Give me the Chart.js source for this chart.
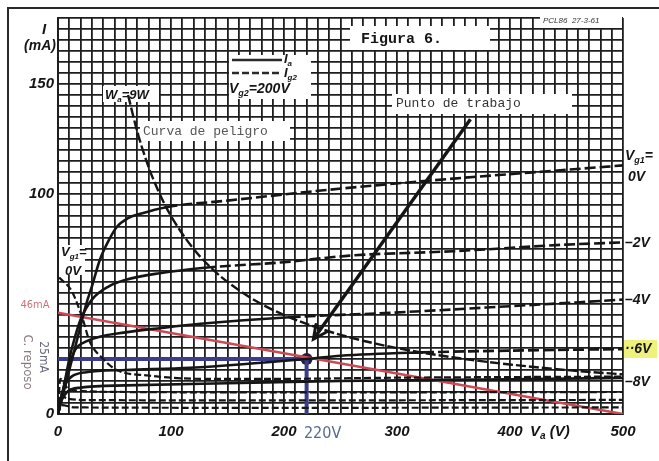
<!DOCTYPE html>
<html>
<head>
<meta charset="utf-8">
<script src="https://cdn.jsdelivr.net/npm/chart.js@4/dist/chart.umd.min.js"></script>
<style>
  body { margin: 0; background: #fff; }
  #wrap { width: 659px; height: 461px; }
</style>
</head>
<body>
<div id="wrap"><canvas id="chart" width="659" height="461"></canvas></div>
<script>
// axis ticks (Va in volts, I in mA)
const xTickLabels = [0, 100, 200, 300, 400, 500];
const yTickLabels = [0, 100, 150];

// anode current Ia for Vg1 = 0, -2, -4, -6, -8 V  [Va, Ia]
const ia0V = [[0,0],[5,10],[10,20],[15,30],[20,40],[25,50],[30,58],[37,70],[45,79],[52,85],[62,89],[73,91],[96,94],[150,97],[241,102],[350,107],[450,111],[500,113]];
const ia2V = [[0,0],[5,12],[10,25],[15,35],[20,43],[30,52],[45,58],[60,61],[90,64],[130,66.5],[200,69],[258,72],[350,74],[450,77],[500,78]];
const ia4V = [[0,0],[5,12],[10,22],[15,29],[25,33],[40,35.5],[58,37],[90,39],[126,41],[205,44],[294,46],[400,49],[500,52]];
const ia6V = [[0,0],[3,8],[7,14],[12,17],[25,19],[60,20],[117,21],[220,25],[250,26.5],[323,28],[400,28.8],[500,29.5]];
const ia8V = [[0,0],[3,6],[8,10],[20,12],[60,13],[150,14],[250,15],[400,15.8],[500,16.4]];
// Va where each Ia curve crosses the 9 W limit and turns dashed
const iaDashFrom = [96, 130, 205, 323, 9999];

// screen grid current Ig2
const ig2_0V = [[1,62],[12,56],[22,43],[28,33],[40,25],[52,20],[80,17.5],[126,16],[200,16],[300,16.5],[400,16.8],[500,17]];
const ig2_2V = [[0,0],[2,16],[8,12],[20,10.5],[60,10],[200,9.8],[500,10]];
const ig2_4V = [[0,0],[2,9],[8,7],[30,6.3],[200,6.2],[500,6.4]];
const ig2_6V = [[0,0],[3,4],[15,3],[200,2.8],[500,3]];

// max anode dissipation Wa = 9 W
const danger9W = [[62,145],[70,128.6],[80,112.5],[90,100],[100,90],[120,75],[140,64.3],[160,56.3],[180,50],[200,45],[240,37.5],[280,32.1],[320,28.1],[360,25],[400,22.5],[450,20],[500,18]];

// load line, quiescent point, arrow
const loadLine = [[0,46],[500,0]];
const restH = [[0,25],[220,25]];
const restV = [[220,0],[220,25]];
const workPoint = [[220,25]];
const arrowLine = [[365,134],[226,34]];

const INK = '#151515';

function curve(data, opts) {
  return Object.assign({
    data: data.map(p => ({x: p[0], y: p[1]})),
    showLine: true, pointRadius: 0, borderColor: INK, borderWidth: 2.6,
    cubicInterpolationMode: 'monotone', fill: false
  }, opts || {});
}

const iaSets = [ia0V, ia2V, ia4V, ia6V, ia8V].map((d, i) => curve(d, {
  segment: { borderDash: ctx => ctx.p0.parsed.x >= iaDashFrom[i] - 0.01 ? [11, 4] : undefined }
}));
const igSets = [ig2_0V, ig2_2V, ig2_4V, ig2_6V].map(d => curve(d, { borderDash: [7, 3], borderWidth: 2.2 }));

function sub(ctx, x, y, base, s, rest, size, color) {
  ctx.fillStyle = color || INK;
  ctx.font = 'italic bold ' + size + 'px "Liberation Sans"';
  ctx.textAlign = 'left';
  ctx.textBaseline = 'alphabetic';
  ctx.fillText(base, x, y);
  let w = ctx.measureText(base).width;
  ctx.font = 'italic bold ' + Math.round(size * 0.65) + 'px "Liberation Sans"';
  ctx.fillText(s, x + w, y + size * 0.22);
  w += ctx.measureText(s).width;
  if (rest) {
    ctx.font = 'italic bold ' + size + 'px "Liberation Sans"';
    ctx.fillText(rest, x + w, y);
  }
}

function txt(ctx, s, x, y, font, color, align) {
  ctx.font = font;
  ctx.fillStyle = color || INK;
  ctx.textAlign = align || 'left';
  ctx.textBaseline = 'middle';
  ctx.fillText(s, x, y);
}

const paper = {
  id: 'paper',
  beforeDraw(chart) {
    const c = chart.ctx;
    c.save();
    c.fillStyle = '#fff';
    c.fillRect(0, 0, chart.width, chart.height);
    c.restore();
  },
  beforeDatasetsDraw(chart) {
    const c = chart.ctx;
    c.save();
    c.fillStyle = '#fff';
    [[229,55,82,44],[350,26,140,24],[392,94,180,20],[140,121,150,20],[540,14,82,14],[103,86,56,16],[59,245,26,30]]
      .forEach(r => c.fillRect(r[0], r[1], r[2], r[3]));
    c.restore();
  },
  afterDatasetsDraw(chart) {
    const c = chart.ctx, xs = chart.scales.x, ys = chart.scales.y;
    c.save();
    // arrow head
    const x0 = xs.getPixelForValue(arrowLine[0][0]), y0 = ys.getPixelForValue(arrowLine[0][1]);
    const x1 = xs.getPixelForValue(arrowLine[1][0]), y1 = ys.getPixelForValue(arrowLine[1][1]);
    const a = Math.atan2(y1 - y0, x1 - x0);
    c.strokeStyle = INK; c.lineWidth = 3; c.lineCap = 'round';
    c.beginPath();
    c.moveTo(x1 - 15 * Math.cos(a - 0.45), y1 - 15 * Math.sin(a - 0.45));
    c.lineTo(x1, y1);
    c.lineTo(x1 - 15 * Math.cos(a + 0.45), y1 - 15 * Math.sin(a + 0.45));
    c.stroke();

    // frame of the scan
    c.strokeStyle = '#2a2a2a'; c.lineWidth = 2;
    c.beginPath(); c.moveTo(8, 461); c.lineTo(8, 8); c.lineTo(659, 8); c.stroke();

    // legend
    c.lineWidth = 2.4; c.lineCap = 'butt';
    c.beginPath(); c.moveTo(232, 60); c.lineTo(282, 60); c.stroke();
    c.setLineDash([7, 3]);
    c.beginPath(); c.moveTo(232, 73); c.lineTo(282, 73); c.stroke();
    c.setLineDash([]);
    sub(c, 284, 63, 'I', 'a', '', 13);
    sub(c, 284, 77, 'I', 'g2', '', 13);
    sub(c, 229, 93, 'V', 'g2', '=200V', 14);

    // axis titles
    txt(c, 'I', 44, 30, 'italic bold 15px "Liberation Sans"', INK, 'center');
    txt(c, '(mA)', 40, 46, 'italic bold 14px "Liberation Sans"', INK, 'center');
    sub(c, 530, 436, 'V', 'a', ' (V)', 15);
    txt(c, '220V', xs.getPixelForValue(220) + 16, 434, '16px "DejaVu Sans Condensed"', '#5a6a8a', 'center');

    // texts on the sheet
    txt(c, 'Figura 6.', 361, 39, 'bold 15px "Liberation Mono"', INK);
    txt(c, 'Punto de trabajo', 396, 104, '13px "Liberation Mono"', '#333');
    txt(c, 'Curva de peligro', 143, 132, '13px "Liberation Mono"', '#555');
    txt(c, 'PCL86  27-3-61', 543, 21, 'italic 8px "Liberation Sans"', '#333');
    sub(c, 105, 99, 'W', 'a', '=9W', 13);

    // grid voltage labels at right
    sub(c, 625, 160, 'V', 'g1', '=', 14);
    txt(c, '0V', 628, 177, 'italic bold 14px "Liberation Sans"');
    c.fillStyle = '#eef27a';
    c.fillRect(624, 340, 33, 18);
    [['–2V', 243], ['–4V', 300], ['··6V', 349], ['–8V', 382]].forEach(l =>
      txt(c, l[0], 625, l[1], 'italic bold 14px "Liberation Sans"'));
    sub(c, 61, 256, 'V', 'g1', '=', 13);
    txt(c, '0V', 65, 271, 'italic bold 13px "Liberation Sans"');

    // load line / rest labels
    txt(c, '46mA', 35, ys.getPixelForValue(loadLine[0][1]) - 8, '11px "DejaVu Sans Condensed"', '#d0707c', 'center');
    c.save();
    c.translate(43, ys.getPixelForValue(restH[0][1]) - 2);
    c.rotate(Math.PI / 2);
    txt(c, '25mA', 0, 0, '12px "DejaVu Sans Condensed"', '#6a6a80', 'center');
    c.restore();
    c.save();
    c.translate(27, ys.getPixelForValue(restH[0][1]) + 3);
    c.rotate(Math.PI / 2);
    txt(c, 'C. reposo', 0, 0, '13px "DejaVu Sans Condensed"', '#8a7a82', 'center');
    c.restore();
    c.restore();
  }
};

new Chart(document.getElementById('chart'), {
  type: 'scatter',
  data: {
    datasets: [
      ...iaSets,
      ...igSets,
      curve(danger9W, { borderDash: [10, 3], borderWidth: 2.4 }),
      curve(loadLine, { borderColor: '#cc4a55', borderWidth: 2.6, cubicInterpolationMode: 'default', tension: 0 }),
      curve(restH, { borderColor: '#3c3c8e', borderWidth: 4, tension: 0, cubicInterpolationMode: 'default' }),
      curve(restV, { borderColor: '#3c3c8e', borderWidth: 4, tension: 0, cubicInterpolationMode: 'default' }),
      curve(arrowLine, { borderWidth: 3.4, tension: 0, cubicInterpolationMode: 'default' }),
      { data: workPoint.map(p => ({x: p[0], y: p[1]})), pointRadius: 6, backgroundColor: '#2a1838', borderWidth: 0 }
    ]
  },
  options: {
    responsive: false,
    animation: false,
    layout: { padding: { top: 18, right: 36, left: 0, bottom: 0 } },
    plugins: { legend: { display: false }, tooltip: { enabled: false } },
    scales: {
      x: {
        type: 'linear', min: 0, max: 500,
        afterFit: s => { s.height = 47; },
        grid: { color: '#1e1e1e', lineWidth: 1.8, drawTicks: false },
        border: { color: '#1e1e1e', width: 2 },
        ticks: {
          stepSize: 10, autoSkip: false, maxRotation: 0, maxTicksLimit: 100, padding: 9,
          color: INK, font: { family: 'Liberation Sans', size: 15, style: 'italic', weight: 'bold' },
          callback: v => xTickLabels.includes(v) ? String(v) : ''
        }
      },
      y: {
        type: 'linear', min: 0, max: 180,
        afterFit: s => { s.width = 58; },
        grid: { color: '#1e1e1e', lineWidth: 1.8, drawTicks: false },
        border: { color: '#1e1e1e', width: 2 },
        ticks: {
          stepSize: 5, autoSkip: false, maxTicksLimit: 100, padding: 4,
          color: INK, font: { family: 'Liberation Sans', size: 15, style: 'italic', weight: 'bold' },
          callback: v => yTickLabels.includes(v) ? String(v) : ''
        }
      }
    }
  },
  plugins: [paper]
});
</script>
</body>
</html>
